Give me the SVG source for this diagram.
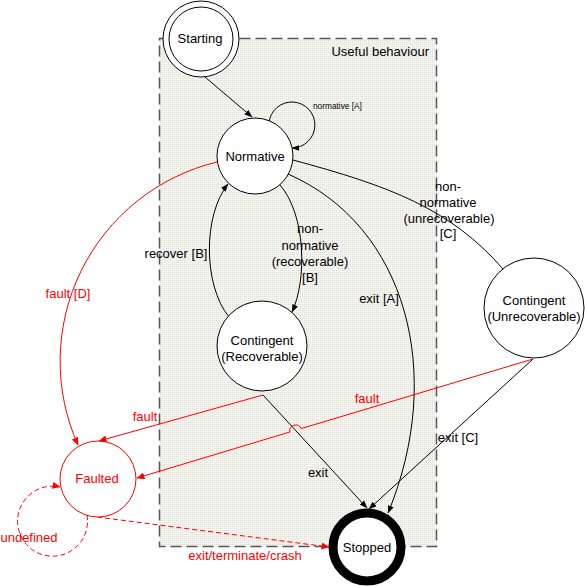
<svg xmlns="http://www.w3.org/2000/svg" width="585" height="586" viewBox="0 0 585 586">
<style>
text{font-family:"Liberation Sans",Arial,sans-serif;font-size:13px;fill:#000}
.r{fill:#ff0000}
.c{text-anchor:middle}
.node{fill:#fff;stroke:#000;stroke-width:1}
.edge{fill:none;stroke:#000;stroke-width:1}
.red{fill:none;stroke:#ff0000;stroke-width:1}
.dash{stroke-dasharray:5,3}
</style>
<defs>
<marker id="ab" markerWidth="8" markerHeight="6" refX="7.5" refY="3" orient="auto" markerUnits="userSpaceOnUse"><path d="M0,0 L8,3 L0,6 z" fill="#000"/></marker>
<marker id="ar" markerWidth="8" markerHeight="7" refX="7.5" refY="3.5" orient="auto" markerUnits="userSpaceOnUse"><path d="M0,0 L8,3.5 L0,7 z" fill="#ff0000"/></marker>
<pattern id="dots" width="2" height="2" patternUnits="userSpaceOnUse"><rect width="2" height="2" fill="#f4f5f1"/><rect x="0" y="0" width="1" height="1" fill="#dde1d5"/></pattern>
</defs>
<g id="region">
<rect x="159.5" y="38.5" width="277" height="508" fill="url(#dots)" stroke="#555" stroke-width="1.5" stroke-dasharray="11,5"/>
<text x="429" y="56" text-anchor="end">Useful behaviour</text>
</g>
<g id="connectors">
<path class="edge" d="M205,77 L252,117" marker-end="url(#ab)"/>
<path class="edge" d="M269,123 A23,23 0 1 1 292,148" marker-end="url(#ab)"/>
<text x="313" y="109" style="font-size:8.3px">normative [A]</text>
<path class="edge" d="M280,185 C306,215 307,280 292,312" marker-end="url(#ab)"/>
<text class="c" x="310" y="233">non-</text>
<text class="c" x="310" y="250">normative</text>
<text class="c" x="310" y="266">(recoverable)</text>
<text class="c" x="310" y="282">[B]</text>
<path class="edge" d="M229,317 C203,285 203,215 228,184" marker-end="url(#ab)"/>
<text class="c" x="176" y="258">recover [B]</text>
<path class="edge" d="M288,174 C407,226 445.5,374.5 388,513" marker-end="url(#ab)"/>
<text class="c" x="379" y="303">exit [A]</text>
<path class="edge" d="M293,160 C389.5,186 450.6,208.7 503,269"/>
<text class="c" x="448" y="191">non-</text>
<text class="c" x="448" y="207">normative</text>
<text class="c" x="449" y="223">(unrecoverable)</text>
<text class="c" x="448" y="238">[C]</text>
<path class="edge" d="M263,395 L367,508" marker-end="url(#ab)"/>
<text class="c" x="318" y="477">exit</text>
<path class="edge" d="M533,359 L369,509" marker-end="url(#ab)"/>
<text class="c" x="458" y="442">exit [C]</text>
<path class="red" d="M217,162 A205,205 0 0 0 78,445" marker-end="url(#ar)"/>
<text class="c r" x="68" y="298">fault [D]</text>
<path class="red" d="M263,395 L99,441" marker-end="url(#ar)"/>
<text class="c r" x="145" y="421">fault</text>
<path class="red" d="M533,359 L301.2,428.6 A6,6 0 0 0 289.8,432 L137,478" marker-end="url(#ar)"/>
<text class="c r" x="367" y="403">fault</text>
<path class="red dash" d="M97,517 L329,547" marker-end="url(#ar)"/>
<text class="c r" x="245" y="560">exit/terminate/crash</text>
<path class="red dash" d="M87,515 A35,35 0 1 1 60,487" marker-end="url(#ar)"/>
<text class="c r" x="29" y="542">undefined</text>
</g>
<g id="starting">
<circle class="node" cx="201" cy="39" r="38"/>
<circle class="node" cx="201" cy="39" r="32"/>
<text class="c" x="200" y="43">Starting</text>
</g>
<g id="normative">
<circle class="node" cx="255" cy="156" r="38"/>
<text class="c" x="255" y="161">Normative</text>
</g>
<g id="contingent-recoverable">
<circle class="node" cx="262" cy="346" r="45"/>
<text class="c" x="262" y="345">Contingent</text>
<text class="c" x="262" y="361">(Recoverable)</text>
</g>
<g id="contingent-unrecoverable">
<circle class="node" cx="534" cy="308" r="50"/>
<text class="c" x="534" y="305">Contingent</text>
<text class="c" x="534" y="321">(Unrecoverable)</text>
</g>
<g id="faulted">
<circle cx="98" cy="479" r="38" fill="#fff" stroke="#ff0000" stroke-width="1"/>
<text class="c r" x="97" y="483">Faulted</text>
</g>
<g id="stopped">
<circle cx="367" cy="547" r="34" fill="#fff" stroke="#000" stroke-width="9"/>
<text class="c" x="367" y="552">Stopped</text>
</g>
</svg>
